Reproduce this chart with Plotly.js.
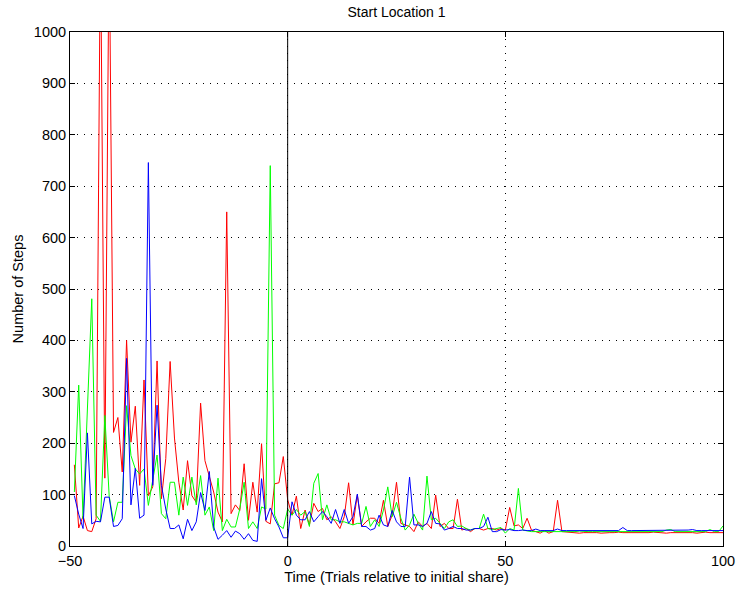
<!DOCTYPE html>
<html>
<head>
<meta charset="utf-8">
<script src="https://cdn.plot.ly/plotly-3.0.1.min.js"></script>
<style>
  html, body { margin: 0; padding: 0; background: #fff; }
  #chart { width: 736px; height: 589px; }
</style>
</head>
<body>
<div id="chart"></div>
<script>
// Trials are numbered relative to the initial share (trial 0).
const firstTrial = -49;
const lastTrial = 100;
const shareTrial = 0;

// Number of steps per trial, one array per condition.
const redSteps = [
  158, 35, 58, 30, 28, 53, 1200, 132, 1200, 221,
  250, 144, 400, 202, 272, 118, 323, 98, 115, 360,
  92, 170, 359, 210, 124, 70, 166, 98, 85, 278,
  166, 137, 105, 66, 47, 650, 63, 80, 69, 160,
  50, 124, 66, 199, 48, 43, 121, 123, 174, 90,
  60, 97, 34, 70, 41, 83, 67, 73, 51, 57,
  47, 34, 57, 123, 41, 99, 38, 47, 54, 54,
  44, 89, 38, 60, 124, 44, 41, 38, 28, 47,
  38, 44, 34, 99, 38, 44, 34, 34, 91, 31,
  34, 28, 34, 34, 31, 34, 34, 31, 34, 31,
  75, 39, 41, 34, 54, 31, 28, 25, 30, 25,
  28, 89, 28, 27, 26, 26, 25, 26, 26, 27,
  26, 25, 26, 26, 26, 27, 26, 26, 25, 26,
  26, 26, 26, 27, 26, 26, 25, 26, 26, 27,
  26, 26, 26, 25, 26, 27, 26, 26, 27, 26
];

const greenSteps = [
  105, 313, 53, 260, 481, 60, 48, 254, 97, 47,
  85, 85, 273, 176, 150, 140, 150, 79, 124, 177,
  63, 53, 124, 124, 60, 134, 79, 134, 80, 137,
  60, 76, 30, 132, 30, 52, 37, 37, 72, 124,
  34, 47, 34, 76, 72, 740, 60, 40, 34, 72,
  60, 71, 60, 67, 38, 122, 141, 51, 80, 51,
  51, 47, 47, 44, 41, 44, 44, 77, 38, 51,
  38, 70, 115, 57, 85, 54, 31, 41, 62, 44,
  31, 136, 51, 54, 44, 34, 47, 51, 38, 39,
  34, 31, 34, 34, 62, 34, 32, 34, 36, 25,
  34, 31, 112, 31, 29, 28, 28, 28, 28, 27,
  28, 28, 28, 28, 28, 28, 29, 28, 28, 28,
  28, 28, 28, 28, 28, 28, 29, 28, 28, 28,
  28, 28, 28, 28, 28, 28, 31, 32, 28, 28,
  28, 28, 28, 28, 28, 28, 32, 28, 28, 39
];

const blueSteps = [
  98, 62, 34, 220, 43, 48, 47, 95, 95, 38,
  40, 53, 365, 80, 151, 54, 60, 746, 118, 274,
  118, 72, 34, 34, 41, 14, 52, 30, 47, 104,
  69, 145, 37, 13, 21, 30, 17, 29, 24, 13,
  24, 11, 9, 131, 50, 74, 53, 37, 16, 16,
  86, 60, 51, 51, 67, 47, 57, 67, 57, 44,
  71, 44, 71, 44, 57, 101, 38, 38, 31, 34,
  60, 41, 38, 69, 47, 38, 38, 134, 41, 41,
  38, 44, 67, 44, 43, 31, 34, 38, 34, 34,
  31, 31, 34, 34, 38, 56, 28, 28, 32, 31,
  32, 30, 30, 31, 30, 30, 33, 30, 30, 30,
  30, 33, 30, 30, 30, 31, 30, 30, 30, 30,
  30, 30, 30, 30, 30, 30, 36, 30, 30, 30,
  30, 30, 30, 30, 30, 31, 30, 30, 30, 30,
  30, 31, 32, 30, 30, 30, 30, 30, 30, 30
];

const xTicks = [-50, 0, 50, 100];
const yTicks = [0, 100, 200, 300, 400, 500, 600, 700, 800, 900, 1000];

const trials = [];
for (let t = firstTrial; t <= lastTrial; t++) trials.push(t);

const font = 'Liberation Sans, Arial, Helvetica, sans-serif';

function series(values, color) {
  return {
    x: trials,
    y: values,
    type: 'scatter',
    mode: 'lines',
    line: { color: color, width: 1 },
    hoverinfo: 'x+y',
    showlegend: false
  };
}

const data = [
  series(redSteps, '#ff0000'),
  series(greenSteps, '#00ff00'),
  series(blueSteps, '#0000ff')
];

const axisCommon = {
  showline: true,
  linecolor: '#000',
  linewidth: 1,
  mirror: 'ticks',
  ticks: 'inside',
  ticklen: 5,
  tickwidth: 1,
  tickcolor: '#000',
  showgrid: true,
  gridcolor: '#000',
  gridwidth: 1,
  griddash: '1px,6px',
  zeroline: false,
  tickfont: { family: font, size: 14.5, color: '#000' }
};

const layout = {
  width: 736,
  height: 589,
  margin: { l: 70, r: 13, t: 32, b: 43 },
  paper_bgcolor: '#fff',
  plot_bgcolor: '#fff',
  title: {
    text: 'Start Location 1',
    font: { family: font, size: 14, color: '#000' },
    xref: 'paper', x: 0.5, xanchor: 'center',
    yref: 'container', y: 1 - 12 / 589, yanchor: 'middle'
  },
  xaxis: Object.assign({}, axisCommon, {
    range: [-50, 100],
    tickvals: xTicks,
    ticklabelstandoff: 2,
    title: { text: 'Time (Trials relative to initial share)', font: { family: font, size: 14.5, color: '#000' }, standoff: 2 }
  }),
  yaxis: Object.assign({}, axisCommon, {
    range: [0, 1000],
    tickvals: yTicks,
    title: { text: 'Number of Steps', font: { family: font, size: 14.5, color: '#000' }, standoff: 6 }
  }),
  shapes: [{
    type: 'line',
    xref: 'x', yref: 'paper',
    x0: shareTrial, x1: shareTrial, y0: 0, y1: 1,
    line: { color: '#000', width: 1 },
    layer: 'above'
  }]
};

Plotly.newPlot('chart', data, layout, { staticPlot: true, displayModeBar: false });
</script>
</body>
</html>
